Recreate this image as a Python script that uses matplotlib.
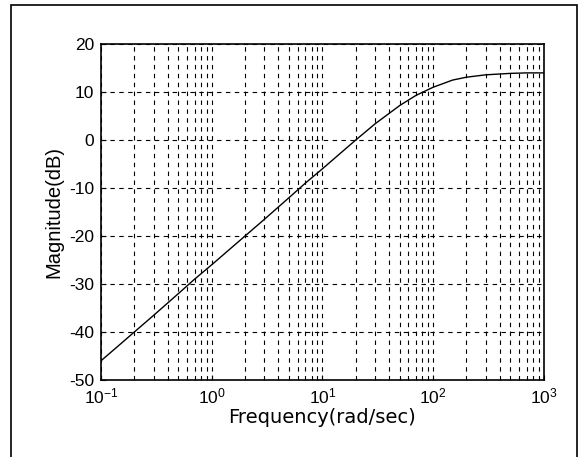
#Bode magnitude plot, MATLAB style
import numpy as np
import matplotlib
matplotlib.use('Agg')
import matplotlib.pyplot as plt
from matplotlib.patches import Rectangle

#values
freq = [0.1, 0.15, 0.2, 0.3, 0.5, 0.7, 1, 2, 3, 5, 7, 10, 20, 30, 50, 70, 100, 150, 200, 300, 500, 700, 1000]
mag = [-46, -42.5, -40, -36.5, -32, -29, -26, -20, -16.5, -12, -9, -6, 0, 3.4, 7.2, 9.3, 11, 12.5, 13.1, 13.6, 13.9, 14, 14]
yticks = [-50, -40, -30, -20, -10, 0, 10, 20]

plt.rcParams['font.family'] = ['Liberation Sans', 'DejaVu Sans']
plt.rcParams['axes.unicode_minus'] = False

fig = plt.figure(figsize=(5.78, 4.57), dpi=100)
ax = fig.add_axes([0.1747, 0.1685, 0.766, 0.735])
ax.semilogx(freq, mag, color='black', linewidth=1.0)
ax.set_xlim(0.1, 1000)
ax.set_ylim(-50, 20)
ax.set_yticks(yticks)
ax.grid(True, which='both', color='black', linestyle=(0, (4, 4)), linewidth=0.8)
ax.tick_params(which='both', direction='in', labelsize=12.5)
ax.tick_params(axis='x', pad=5)
ax.tick_params(axis='y', pad=5)
for s in ax.spines.values():
    s.set_linewidth(1.2)
ax.set_xlabel('Frequency(rad/sec)', fontsize=14, labelpad=1, family='DejaVu Sans')
ax.set_ylabel('Magnitude(dB)', fontsize=14.5, labelpad=4)

#frame round the whole figure (no bottom edge visible)
fig.patches.append(Rectangle((0.019, -0.05), 0.979, 1.039, transform=fig.transFigure,
                             fill=False, edgecolor='black', linewidth=1.2))

fig.savefig('out.png', dpi=100)
